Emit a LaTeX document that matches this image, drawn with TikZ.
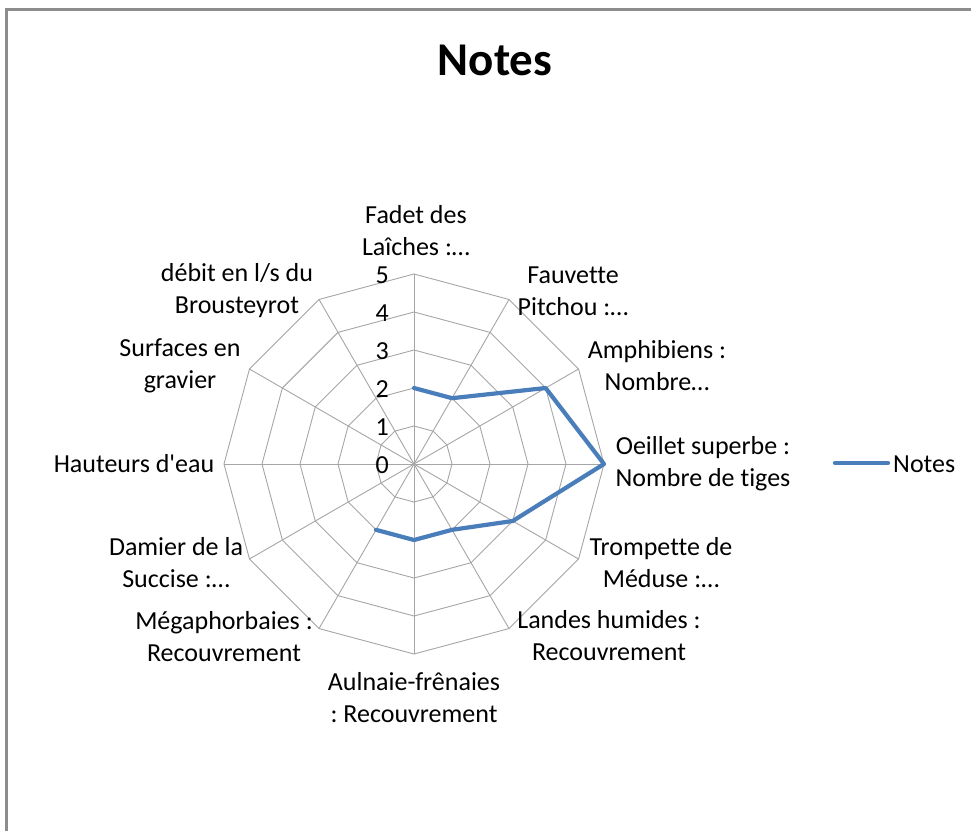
\documentclass[tikz,border=0pt]{standalone}
\usepackage{fontspec}
\setmainfont{Carlito}[Ligatures=NoCommon]
\newcommand\straightapos{\XeTeXglyph\XeTeXcharglyph"27\relax}
\definecolor{gridgray}{HTML}{A6A6A6}
\definecolor{framegray}{HTML}{8C8C8C}
\definecolor{serieblue}{HTML}{4A7EBB}
\begin{document}
\frenchspacing
\begin{tikzpicture}[x=1pt,y=-1pt,
  grid/.style={draw=gridgray, line width=0.9pt},
  lbl/.style={align=center, font=\fontsize{26}{32}\selectfont\frenchspacing, inner sep=0pt},
  tick/.style={anchor=east, font=\fontsize{26}{32}\selectfont, inner sep=0pt},
  serie/.style={draw=serieblue, line width=4.2pt, line join=round, line cap=round}]
\useasboundingbox (0,0) rectangle (971,830);
\fill[white] (0,0) rectangle (971,830);
\draw[framegray, line width=2.6pt] (6.3,840) -- (6.3,9.3) -- (980,9.3);
\node[font=\fontsize{47}{56}\selectfont\bfseries, inner sep=0pt] (title) at (495,60) {Notes};
\coordinate (O) at (414,464);
% rings
\foreach \r in {1,...,5}{
  \draw[grid] (414,{464-38*\r}) \foreach \i in {1,...,11}{ -- ({414+38*\r*sin(30*\i)},{464-38*\r*cos(30*\i)}) } -- cycle;
}
% spokes
\foreach \i in {0,...,11}{
  \coordinate (s\i) at ({414+190*sin(30*\i)},{464-190*cos(30*\i)});
  \draw[grid] (O) -- (s\i);
}
% tick labels
\foreach \k in {0,...,5}{
  \node[tick] (t\k) at (389,{464-38*\k+1}) {\k};
}
% data
\foreach \v [count=\i from 0] in {2,2,4,5,3,2,2,2}{
  \coordinate (p\i) at ({414+38*\v*sin(30*\i)},{464-38*\v*cos(30*\i)});
}
\draw[serie] (p0) -- (p1) -- (p2) -- (p3) -- (p4) -- (p5) -- (p6) -- (p7);
% category labels
\node[lbl] (c0) at (416,231) {Fadet des\\Laîches :…};
\node[lbl] (c1) at (573,291) {Fauvette\\Pitchou :…};
\node[lbl] (c2) at (657,366) {Amphibiens :\\Nombre…};
\node[lbl] (c3) at (703,464) {Oeillet superbe :\\Nombre de tiges};
\node[lbl] (c4) at (661,563) {Trompette de\\Méduse :…};
\node[lbl] (c5) at (609,636) {Landes humides :\\Recouvrement};
\node[lbl] (c6) at (414,698) {Aulnaie-frênaies\\: Recouvrement};
\node[lbl] (c7) at (224,637) {Mégaphorbaies :\\Recouvrement};
\node[lbl] (c8) at (176,563) {Damier de la\\Succise :…};
\node[lbl] (c9) at (134,464) {Hauteurs d\straightapos eau};
\node[lbl] (c10) at (180,366) {Surfaces en\\gravier};
\node[lbl] (c11) at (237,291) {débit en l/s du\\Brousteyrot};
% legend
\coordinate (l1) at (835,463);
\coordinate (l2) at (888,463);
\draw[serie] (l1) -- (l2);
\node[anchor=west, font=\fontsize{26}{32}\selectfont, inner sep=0pt] (leg) at (893,464) {Notes};
\end{tikzpicture}
\end{document}
